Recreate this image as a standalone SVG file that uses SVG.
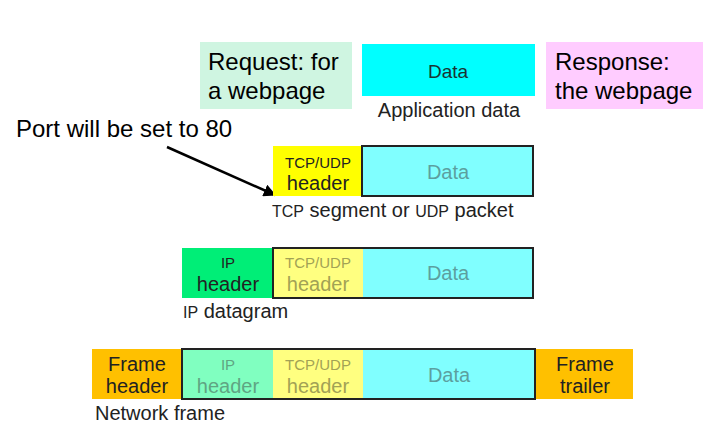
<svg xmlns="http://www.w3.org/2000/svg" width="718" height="430" viewBox="0 0 718 430">
<defs>
<marker id="ah" viewBox="0 0 10 10" refX="9" refY="5" markerWidth="5" markerHeight="5" orient="auto" markerUnits="strokeWidth">
<path d="M0,0 L10,5 L0,10 z" fill="#000"/>
</marker>
<style>
text{font-family:"Liberation Sans",Arial,sans-serif;}
.big{font-size:24px;fill:#000;}
.mid{font-size:20px;fill:#222;}
.sm{font-size:15px;fill:#222;}
.c{text-anchor:middle;}
.fadeC{fill:#5c9f9f;}
.fadeY{fill:#a2a255;}
.fadeG{fill:#5fa583;}
.frame{fill:none;stroke:#222;stroke-width:2;}
</style>
</defs>
<rect width="718" height="430" fill="#fff"/>

<g id="request">
<rect x="200" y="42" width="152" height="67" fill="#cff5e1"/>
<text class="big" x="208" y="70">Request: for</text>
<text class="big" x="208" y="99">a webpage</text>
</g>

<g id="appdata">
<rect x="362" y="44" width="173" height="52" fill="#00ffff"/>
<text class="mid c" x="448" y="78" style="font-size:19px;fill:#1a3333">Data</text>
<text class="mid c" x="449" y="117">Application data</text>
</g>

<g id="response">
<rect x="546" y="42" width="157" height="67" fill="#ffccff"/>
<text class="big" x="555" y="70">Response:</text>
<text class="big" x="555" y="99">the webpage</text>
</g>

<g id="port-note">
<text class="big" x="16" y="137">Port will be set to 80</text>
</g>

<g id="connectors">
<line x1="167" y1="147" x2="275" y2="195" stroke="#000" stroke-width="2.5" marker-end="url(#ah)"/>
</g>

<g id="tcp-segment">
<rect x="273" y="146" width="89" height="50" fill="#ffff00"/>
<rect x="362" y="146" width="171" height="50" fill="#80ffff"/>
<rect class="frame" x="362" y="146" width="171" height="50"/>
<text class="sm c" x="318" y="168">TCP/UDP</text>
<text class="mid c" x="318" y="190">header</text>
<text class="mid c fadeC" x="448" y="179">Data</text>
<text class="mid" x="272" y="217"><tspan style="font-size:16px">TCP</tspan> segment or <tspan style="font-size:16px">UDP</tspan> packet</text>
</g>

<g id="ip-datagram">
<rect x="182" y="248" width="91" height="50" fill="#00ee77"/>
<rect x="273" y="248" width="90" height="50" fill="#ffff80"/>
<rect x="363" y="248" width="170" height="50" fill="#80ffff"/>
<rect class="frame" x="273" y="248" width="260" height="50"/>
<text class="sm c" x="228" y="268">IP</text>
<text class="mid c" x="228" y="291">header</text>
<text class="sm c fadeY" x="318" y="268">TCP/UDP</text>
<text class="mid c fadeY" x="318" y="291">header</text>
<text class="mid c fadeC" x="448" y="280">Data</text>
<text class="mid" x="183" y="318"><tspan style="font-size:16px">IP</tspan> datagram</text>
</g>

<g id="network-frame">
<rect x="92" y="349" width="90" height="50" fill="#ffc000"/>
<rect x="182" y="349" width="91" height="50" fill="#80ffc0"/>
<rect x="273" y="349" width="90" height="50" fill="#ffff80"/>
<rect x="363" y="349" width="172" height="50" fill="#80ffff"/>
<rect x="535" y="349" width="98" height="50" fill="#ffc000"/>
<rect class="frame" x="182" y="349" width="353" height="50"/>
<text class="mid c" x="137" y="371">Frame</text>
<text class="mid c" x="137" y="393">header</text>
<text class="sm c fadeG" x="228" y="370">IP</text>
<text class="mid c fadeG" x="228" y="393">header</text>
<text class="sm c fadeY" x="318" y="370">TCP/UDP</text>
<text class="mid c fadeY" x="318" y="393">header</text>
<text class="mid c fadeC" x="449" y="382">Data</text>
<text class="mid c" x="585" y="371">Frame</text>
<text class="mid c" x="585" y="393">trailer</text>
<text class="mid" x="95" y="420">Network frame</text>
</g>
</svg>
